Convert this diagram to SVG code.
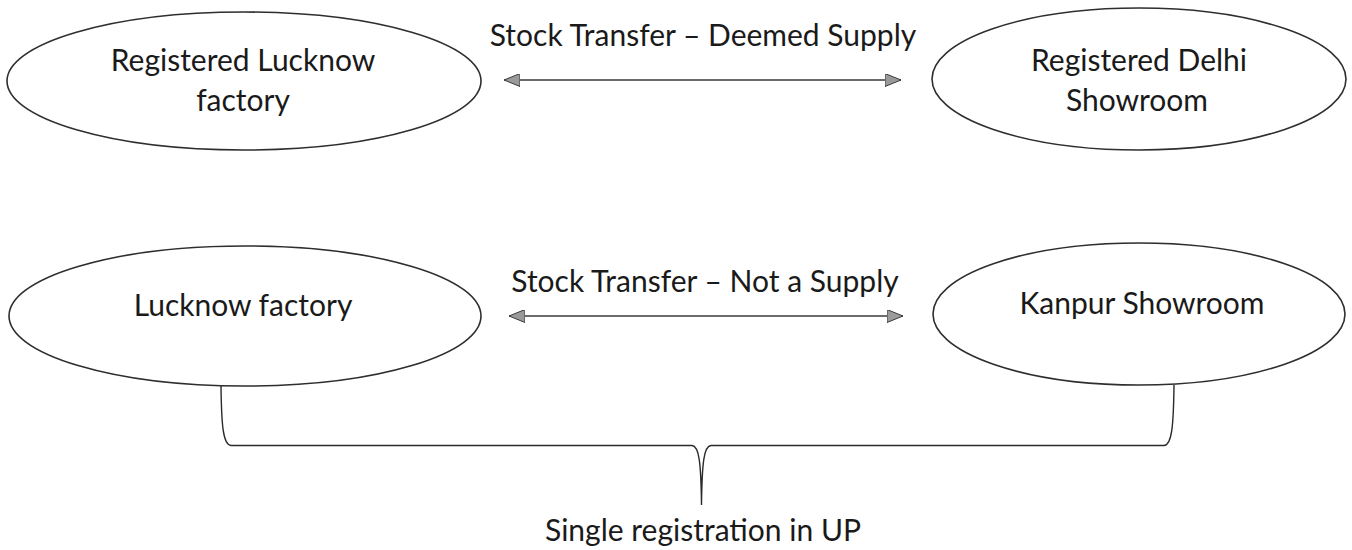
<svg xmlns="http://www.w3.org/2000/svg" width="1352" height="550" viewBox="0 0 1352 550">
  <style>
    .node { fill: #ffffff; stroke: #2e2e2e; stroke-width: 1.6; }
    .label { font-family: Lato, "Open Sans", "Liberation Sans", sans-serif; font-size: 30px; fill: #1a1a1a; text-anchor: middle; }
    .link { fill: none; stroke: #3a3a3a; stroke-width: 1.3; }
    .brace { fill: none; stroke: #2a2a2a; stroke-width: 1.4; }
  </style>
  <defs>
    <marker id="head" viewBox="0 0 16 13" refX="16" refY="6.5" markerWidth="16" markerHeight="13" markerUnits="userSpaceOnUse" orient="auto-start-reverse">
      <path d="M0,0 L16,6.5 L0,13 z" fill="#9a9a9a" stroke="#3a3a3a" stroke-width="1"/>
    </marker>
  </defs>

  <rect width="1352" height="550" fill="#ffffff"/>

  <!-- top row: registered premises in two states -->
  <g id="registered-lucknow-factory">
    <ellipse class="node" cx="244" cy="81" rx="237" ry="69"/>
    <text class="label" x="243" y="71">Registered Lucknow</text>
    <text class="label" x="243" y="111">factory</text>
  </g>
  <g id="registered-delhi-showroom">
    <ellipse class="node" cx="1139" cy="79" rx="207" ry="71"/>
    <text class="label" x="1139" y="71">Registered Delhi</text>
    <text class="label" x="1137" y="111">Showroom</text>
  </g>

  <!-- bottom row: premises under one registration -->
  <g id="lucknow-factory">
    <ellipse class="node" cx="245" cy="316" rx="236" ry="70"/>
    <text class="label" x="243" y="316">Lucknow factory</text>
  </g>
  <g id="kanpur-showroom">
    <ellipse class="node" cx="1139" cy="314" rx="206" ry="71"/>
    <text class="label" x="1142" y="314">Kanpur Showroom</text>
  </g>

  <g id="connectors">
    <line class="link" x1="504" y1="80" x2="901" y2="80" marker-start="url(#head)" marker-end="url(#head)"/>
    <text class="label" x="703" y="46">Stock Transfer – Deemed Supply</text>

    <line class="link" x1="509" y1="316" x2="903" y2="316" marker-start="url(#head)" marker-end="url(#head)"/>
    <text class="label" x="705" y="292">Stock Transfer – Not a Supply</text>

    <!-- curly brace grouping the two bottom premises -->
    <path class="brace" d="M221,386 C221.5,425 223,445 231,445.5 L692,445.5 C699,446 701,462 701.5,505 C702,462 704,446 711,445.5 L1164,445.5 C1172,445 1173.5,425 1174,385"/>
    <text class="label" x="703" y="541">Single registration in UP</text>
  </g>
</svg>
